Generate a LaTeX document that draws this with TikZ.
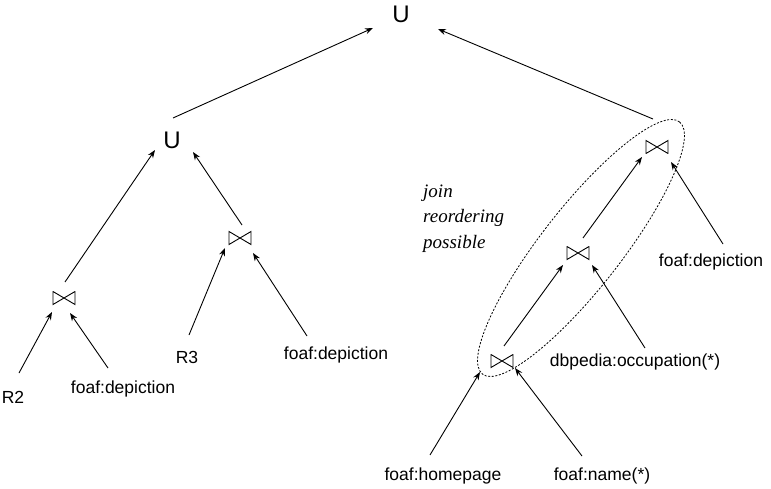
\documentclass[tikz,border=0pt]{standalone}
\usepackage{fontspec}
\setmainfont{Liberation Sans}
\newfontfamily\serifit{Liberation Serif}
\usetikzlibrary{arrows.meta}
\tikzset{
  lbl/.style={inner sep=0pt, font=\fontsize{17.5}{20}\selectfont},
  uni/.style={inner sep=0pt, font=\fontsize{24}{28}\selectfont},
  bowtie/.style={inner sep=0pt, minimum width=23pt, minimum height=14pt,
    path picture={\draw[line width=0.9pt]
      ([shift={(-11pt,-6.5pt)}]path picture bounding box.center) --
      ([shift={(11pt,6.5pt)}]path picture bounding box.center) --
      ([shift={(11pt,-6.5pt)}]path picture bounding box.center) --
      ([shift={(-11pt,6.5pt)}]path picture bounding box.center) -- cycle;}},
  arr/.style={line width=0.9pt, -{Stealth[length=8pt,width=6pt]}},
  grp/.style={line width=0.8pt, dash pattern=on 2pt off 1.6pt}
}
\begin{document}
\begin{tikzpicture}[x=1pt,y=-1pt]
\useasboundingbox (0,0) rectangle (771,489);
% operators
\node[uni] (u1) at (401,14) {U};
\node[uni] (u2) at (172,140) {U};
\node[bowtie] (j1) at (64,298) {};
\node[bowtie] (j2) at (240,238) {};
\node[bowtie] (j3) at (657,147) {};
\node[bowtie] (j4) at (578,253) {};
\node[bowtie] (j5) at (502,361) {};
% leaves
\node[lbl] (r2) at (13,397) {R2};
\node[lbl] (fd1) at (123,389) {foaf:depiction};
\node[lbl] (r3) at (187,357) {R3};
\node[lbl] (fd2) at (336,355) {foaf:depiction};
\node[lbl] (fd3) at (711,262) {foaf:depiction};
\node[lbl] (dbo) at (635,362) {dbpedia:occupation(*)};
\node[lbl] (fh) at (443,476) {foaf:homepage};
\node[lbl] (fn) at (602,476) {foaf:name(*)};
% note (base anchor = baseline of last line)
\node[anchor=base west, align=left, inner sep=0pt,
  font=\serifit\itshape\fontsize{19}{25.5}\selectfont] (note) at (423,248)
  {join\\reordering\\possible};
% group ellipse
\draw[grp, rotate around={52:(581,248)}] (581,248) ellipse [x radius=160pt, y radius=40pt];
% connectors
\draw[arr] ([shift={(1,-22)}]u2.center) -- ([shift={(-28,14)}]u1.center);
\draw[arr] ([shift={(-4,-28)}]j3.center) -- ([shift={(37,15)}]u1.center);
\draw[arr] ([shift={(1,-16)}]j1.center) -- ([shift={(-17,10)}]u2.center);
\draw[arr] ([shift={(2,-13)}]j2.center) -- ([shift={(21,12)}]u2.center);
\draw[arr] ([shift={(6,-24)}]r2.center) -- ([shift={(-12,14)}]j1.center);
\draw[arr] ([shift={(-15,-21)}]fd1.center) -- ([shift={(6,15)}]j1.center);
\draw[arr] ([shift={(2,-22)}]r3.center) -- ([shift={(-15,10)}]j2.center);
\draw[arr] ([shift={(-29,-19)}]fd2.center) -- ([shift={(13,15)}]j2.center);
\draw[arr] ([shift={(5,-15)}]j4.center) -- ([shift={(-15,10)}]j3.center);
\draw[arr] ([shift={(12,-18)}]fd3.center) -- ([shift={(14,15)}]j3.center);
\draw[arr] ([shift={(2,-15)}]j5.center) -- ([shift={(-15,12)}]j4.center);
\draw[arr] ([shift={(10,-14)}]dbo.center) -- ([shift={(14,12)}]j4.center);
\draw[arr] ([shift={(-13,-21)}]fh.center) -- ([shift={(-22,11)}]j5.center);
\draw[arr] ([shift={(-20,-20)}]fn.center) -- ([shift={(13,7)}]j5.center);
\end{tikzpicture}
\end{document}
